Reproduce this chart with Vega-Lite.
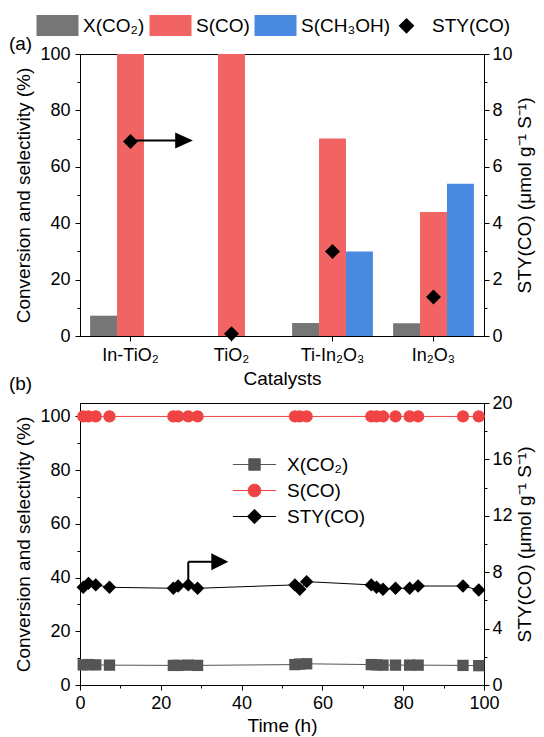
{
  "$schema": "https://vega.github.io/schema/vega-lite/v6.json",
  "padding": {"left": 8, "top": 13, "right": 5, "bottom": 0},
  "bounds": "flush",
  "spacing": 67,
  "config": {
    "font": "Liberation Sans",
    "view": {"stroke": "black", "strokeWidth": 1},
    "axis": {
      "grid": false, "domainColor": "black", "tickColor": "black", "labelColor": "black", "titleColor": "black",
      "labelFontSize": 18, "titleFontSize": 19, "titleFontWeight": "normal", "labelFont": "Liberation Sans",
      "titleFont": "Liberation Sans", "tickWidth": 1, "domainWidth": 1, "labelFlush": false, "labelOverlap": false
    },
    "legend": {"labelFont": "Liberation Sans", "labelColor": "black", "labelFontSize": 19, "padding": 0},
    "title": {"fontSize": 19, "fontWeight": "normal", "font": "Liberation Sans", "color": "black"}
  },
  "datasets": {
    "bars": [
      {"catalyst": "In-TiO₂", "series": "X(CO₂)", "value": 7.2},
      {"catalyst": "In-TiO₂", "series": "S(CO)", "value": 100},
      {"catalyst": "In-TiO₂", "series": "S(CH₃OH)", "value": 0},
      {"catalyst": "TiO₂", "series": "X(CO₂)", "value": 0},
      {"catalyst": "TiO₂", "series": "S(CO)", "value": 100},
      {"catalyst": "TiO₂", "series": "S(CH₃OH)", "value": 0},
      {"catalyst": "Ti-In₂O₃", "series": "X(CO₂)", "value": 4.6},
      {"catalyst": "Ti-In₂O₃", "series": "S(CO)", "value": 70},
      {"catalyst": "Ti-In₂O₃", "series": "S(CH₃OH)", "value": 30},
      {"catalyst": "In₂O₃", "series": "X(CO₂)", "value": 4.5},
      {"catalyst": "In₂O₃", "series": "S(CO)", "value": 44},
      {"catalyst": "In₂O₃", "series": "S(CH₃OH)", "value": 54}
    ],
    "styA": [
      {"catalyst": "In-TiO₂", "sty": 6.9},
      {"catalyst": "TiO₂", "sty": 0.08},
      {"catalyst": "Ti-In₂O₃", "sty": 3.0},
      {"catalyst": "In₂O₃", "sty": 1.38}
    ],
    "arrowA_line": [{"pos": 0.5, "pos2": 0.95, "sty": 6.93}],
    "arrowA_head": [{"pos": 1.03, "sty": 6.93}],
    "time": [
      {"t": 0.8, "x": 7.5, "s": 100, "sty": 6.93},
      {"t": 2.1, "x": 7.6, "s": 100, "sty": 7.21},
      {"t": 3.9, "x": 7.5, "s": 100, "sty": 7.10},
      {"t": 7.3, "x": 7.4, "s": 100, "sty": 6.93},
      {"t": 23.1, "x": 7.3, "s": 100, "sty": 6.86},
      {"t": 24.3, "x": 7.3, "s": 100, "sty": 7.02},
      {"t": 26.8, "x": 7.4, "s": 100, "sty": 7.10},
      {"t": 29.1, "x": 7.3, "s": 100, "sty": 6.86},
      {"t": 53.2, "x": 7.6, "s": 100, "sty": 7.10},
      {"t": 54.4, "x": 7.8, "s": 100, "sty": 6.79},
      {"t": 56.1, "x": 7.9, "s": 100, "sty": 7.33},
      {"t": 72.1, "x": 7.6, "s": 100, "sty": 7.10},
      {"t": 73.4, "x": 7.5, "s": 100, "sty": 6.93},
      {"t": 75.0, "x": 7.4, "s": 100, "sty": 6.79},
      {"t": 78.1, "x": 7.4, "s": 100, "sty": 6.86},
      {"t": 81.6, "x": 7.4, "s": 100, "sty": 6.86},
      {"t": 83.7, "x": 7.4, "s": 100, "sty": 7.02},
      {"t": 94.8, "x": 7.3, "s": 100, "sty": 7.02},
      {"t": 98.7, "x": 7.2, "s": 100, "sty": 6.74}
    ],
    "arrowB_v": [{"t": 26.8, "sty": 6.9, "sty2": 8.74}],
    "arrowB_h": [{"t": 26.8, "t2": 33.0, "sty": 8.74}],
    "arrowB_head": [{"t": 34.6, "sty": 8.74}]
  },
  "vconcat": [
    {
      "width": 404,
      "height": 282,
      "title": {"text": "(a)", "anchor": "start", "frame": "bounds", "offset": -40, "dx": -6},
      "layer": [
        {
          "layer": [
            {
              "data": {"name": "bars"},
              "mark": {"type": "bar"},
              "encoding": {
                "x": {
                  "field": "catalyst", "type": "nominal",
                  "sort": ["In-TiO₂", "TiO₂", "Ti-In₂O₃", "In₂O₃"],
                  "scale": {"paddingInner": 0.2, "paddingOuter": 0.1},
                  "axis": {"title": "Catalysts", "labelAngle": 0, "tickSize": 5, "labelPadding": 5, "titlePadding": 5}
                },
                "xOffset": {
                  "field": "series", "type": "nominal",
                  "scale": {"domain": ["X(CO₂)", "S(CO)", "S(CH₃OH)"], "paddingInner": 0, "paddingOuter": 0}
                },
                "y": {
                  "field": "value", "type": "quantitative",
                  "scale": {"domain": [0, 100], "nice": false},
                  "axis": {
                    "title": "Conversion and selectivity (%)",
                    "values": [0, 10, 20, 30, 40, 50, 60, 70, 80, 90, 100],
                    "labelExpr": "datum.value % 20 === 0 ? datum.label : ''",
                    "tickSize": {"condition": {"test": "datum.value % 20 === 0", "value": 5}, "value": 3},
                    "labelPadding": 5, "titlePadding": 6
                  }
                },
                "color": {
                  "field": "series", "type": "nominal",
                  "scale": {"domain": ["X(CO₂)", "S(CO)", "S(CH₃OH)", "STY(CO)"], "range": ["#767676", "#f26464", "#4a89e0", "#000000"]},
                  "legend": {
                    "title": null, "orient": "none", "direction": "horizontal",
                    "legendX": -34, "legendY": -40,
                    "symbolSize": 441, "labelOffset": 14, "columnPadding": 4,
                    "encode": {"symbols": {"update": {"shape": {"signal": "datum.index === 3 ? 'M-0.75,0L0,-0.75L0.75,0L0,0.75Z' : 'M-2,-1H2V1H-2Z'"}}}}
                  }
                }
              }
            },
            {
              "data": {"name": "styA"},
              "mark": {"type": "point", "shape": "diamond", "filled": true, "size": 225, "opacity": 1},
              "encoding": {
                "x": {"field": "catalyst", "type": "nominal", "sort": ["In-TiO₂", "TiO₂", "Ti-In₂O₃", "In₂O₃"]},
                "y": {
                  "field": "sty", "type": "quantitative",
                  "scale": {"domain": [0, 10], "nice": false},
                  "axis": {
                    "orient": "right",
                    "title": "STY(CO) (μmol g⁻¹ S⁻¹)",
                    "values": [0, 1, 2, 3, 4, 5, 6, 7, 8, 9, 10],
                    "labelExpr": "datum.value % 2 === 0 ? datum.label : ''",
                    "tickSize": {"condition": {"test": "datum.value % 2 === 0", "value": 5}, "value": 3},
                    "labelPadding": 3, "titlePadding": 3, "titleAngle": -90, "titleBaseline": "top"
                  }
                },
                "color": {"datum": "STY(CO)", "type": "nominal"}
              }
            }
          ],
          "resolve": {"scale": {"y": "independent"}}
        },
        {
          "layer": [
            {
              "data": {"name": "arrowA_line"},
              "mark": {"type": "rule", "color": "black", "strokeWidth": 2},
              "encoding": {
                "x": {"field": "pos", "type": "quantitative", "scale": {"domain": [0, 4], "nice": false, "zero": false}, "axis": null},
                "x2": {"field": "pos2"},
                "y": {"field": "sty", "type": "quantitative", "scale": {"domain": [0, 10], "nice": false}, "axis": null}
              }
            },
            {
              "data": {"name": "arrowA_head"},
              "mark": {"type": "point", "shape": "M-1,-0.9L1,0L-1,0.9Z", "filled": true, "color": "black", "size": 313, "opacity": 1},
              "encoding": {
                "x": {"field": "pos", "type": "quantitative", "scale": {"domain": [0, 4], "nice": false, "zero": false}, "axis": null},
                "y": {"field": "sty", "type": "quantitative", "scale": {"domain": [0, 10], "nice": false}, "axis": null}
              }
            }
          ]
        }
      ],
      "resolve": {"scale": {"x": "independent", "y": "independent"}}
    },
    {
      "width": 404,
      "height": 282,
      "title": {"text": "(b)", "anchor": "start", "frame": "bounds", "offset": 0, "dx": -6},
      "data": {"name": "time"},
      "encoding": {
        "x": {
          "field": "t", "type": "quantitative",
          "scale": {"domain": [0, 100], "nice": false},
          "axis": {
            "title": "Time (h)",
            "values": [0, 10, 20, 30, 40, 50, 60, 70, 80, 90, 100],
            "labelExpr": "datum.value % 20 === 0 ? datum.label : ''",
            "tickSize": {"condition": {"test": "datum.value % 20 === 0", "value": 5}, "value": 3},
            "labelPadding": 4, "titlePadding": 4
          }
        }
      },
      "layer": [
        {
          "encoding": {
            "y": {
              "type": "quantitative",
              "scale": {"domain": [0, 105], "nice": false},
              "axis": {
                "title": "Conversion and selectivity (%)",
                "values": [0, 10, 20, 30, 40, 50, 60, 70, 80, 90, 100],
                "labelExpr": "datum.value % 20 === 0 ? datum.label : ''",
                "tickSize": {"condition": {"test": "datum.value % 20 === 0", "value": 5}, "value": 3},
                "labelPadding": 5, "titlePadding": 6
              }
            }
          },
          "layer": [
            {
              "mark": {"type": "line", "strokeWidth": 1},
              "encoding": {
                "y": {"field": "x"},
                "color": {
                  "datum": "X(CO₂)", "type": "nominal",
                  "scale": {"domain": ["X(CO₂)", "S(CO)", "STY(CO)"], "range": ["#555555", "#f04343", "#000000"]},
                  "legend": {
                    "title": null, "orient": "none", "direction": "vertical",
                    "legendX": 165, "legendY": 52,
                    "symbolSize": 144, "labelOffset": 23, "rowPadding": 6,
                    "encode": {"symbols": {"update": {
                      "shape": {"signal": "datum.index === 0 ? 'M-3.6,0H3.6M-0.95,-0.95H0.95V0.95H-0.95Z' : datum.index === 1 ? 'M-3.6,0H3.6M1.05,0A1.05,1.05,0,1,1,-1.05,0A1.05,1.05,0,1,1,1.05,0Z' : 'M-3.6,0H3.6M-1.2,0L0,-1.2L1.2,0L0,1.2Z'"},
                      "fill": {"signal": "datum.index === 0 ? '#555555' : datum.index === 1 ? '#f04343' : '#000000'"},
                      "stroke": {"signal": "datum.index === 0 ? '#666666' : datum.index === 1 ? '#f04343' : '#000000'"},
                      "strokeWidth": {"value": 1},
                      "opacity": {"value": 1}
                    }}}
                  }
                }
              }
            },
            {
              "mark": {"type": "point", "shape": "square", "filled": true, "size": 128, "opacity": 1},
              "encoding": {"y": {"field": "x"}, "color": {"datum": "X(CO₂)", "type": "nominal"}}
            },
            {
              "mark": {"type": "line", "strokeWidth": 1},
              "encoding": {"y": {"field": "s"}, "color": {"datum": "S(CO)", "type": "nominal"}}
            },
            {
              "mark": {"type": "point", "shape": "circle", "filled": true, "size": 150, "opacity": 1},
              "encoding": {"y": {"field": "s"}, "color": {"datum": "S(CO)", "type": "nominal"}}
            }
          ]
        },
        {
          "encoding": {
            "y": {
              "field": "sty", "type": "quantitative",
              "scale": {"domain": [0, 20], "nice": false},
              "axis": {
                "orient": "right",
                "title": "STY(CO) (μmol g⁻¹ S⁻¹)",
                "values": [0, 2, 4, 6, 8, 10, 12, 14, 16, 18, 20],
                "labelExpr": "datum.value % 4 === 0 ? datum.label : ''",
                "tickSize": {"condition": {"test": "datum.value % 4 === 0", "value": 5}, "value": 3},
                "labelPadding": 3, "titlePadding": 3, "titleAngle": -90, "titleBaseline": "top"
              }
            }
          },
          "layer": [
            {
              "mark": {"type": "line", "strokeWidth": 1},
              "encoding": {"color": {"datum": "STY(CO)", "type": "nominal"}}
            },
            {
              "mark": {"type": "point", "shape": "diamond", "filled": true, "size": 180, "opacity": 1},
              "encoding": {"color": {"datum": "STY(CO)", "type": "nominal"}}
            },
            {
              "data": {"name": "arrowB_v"},
              "mark": {"type": "rule", "color": "black", "strokeWidth": 2},
              "encoding": {"y2": {"field": "sty2"}}
            },
            {
              "data": {"name": "arrowB_h"},
              "mark": {"type": "rule", "color": "black", "strokeWidth": 2},
              "encoding": {"x2": {"field": "t2"}}
            },
            {
              "data": {"name": "arrowB_head"},
              "mark": {"type": "point", "shape": "M-1,-1L1,0L-1,1Z", "filled": true, "color": "black", "size": 289, "opacity": 1},
              "encoding": {}
            }
          ]
        }
      ],
      "resolve": {"scale": {"y": "independent"}}
    }
  ],
  "resolve": {"scale": {"color": "independent"}, "legend": {"color": "independent"}}
}
